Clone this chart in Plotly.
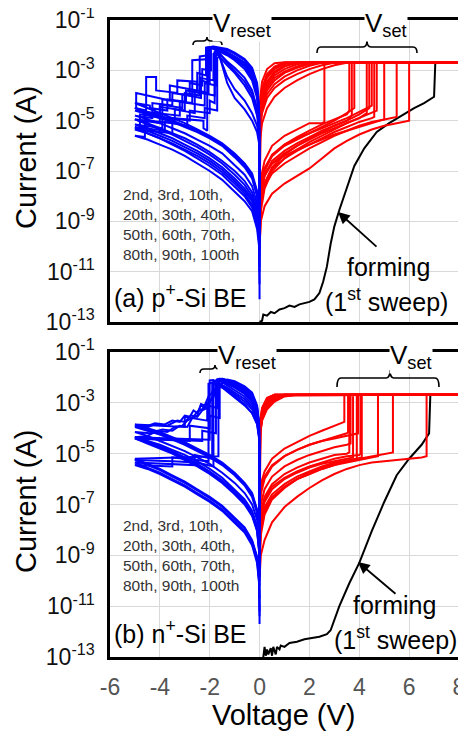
import plotly.graph_objects as go

# ---------------- data (log10 of current in A) ----------------
CC = -2.68  # compliance level (log10 A)
X_TICKS = [-6, -4, -2, 0, 2, 4, 6, 8]
X_TICK_TEXT = ["-6", "-4", "-2", "0", "2", "4", "6", "8"]
Y_EXP = [-13, -11, -9, -7, -5, -3, -1]

SET_V = [0.0, 0.05, 0.2, 0.5, 1.0, 1.5, 2.0, 2.5, 3.0, 3.5, 4.0, 4.5, 5.0, 5.5, 6.0, 6.5]
SET_END_V = 8.0
RET_POS_V = [3.5, 3.0, 2.5, 2.0, 1.5, 1.0, 0.6, 0.3, 0.1, 0.03, 0.0]
LRS_NEG_V = [0.0, -0.003, -0.02, -0.1, -0.3, -0.6, -1.0, -1.3]
RET_NEG_V = [-5.0, -4.5, -4.0, -3.5, -3.0, -2.5, -2.0, -1.5, -1.0, -0.6, -0.3, -0.1, -0.02, 0.0]

# ---- panel (a) set sweeps ----
TOP_VSET = [2.6, 3.6, 3.7, 3.8, 4.3, 4.4, 4.5, 4.6, 4.7, 5.0, 5.5, 6.0]
TOP_PRE = [-5.05, -4.6, -4.8, -4.5, -4.7, -4.5, -4.4, -4.85, -4.6, -4.95, -4.85, -5.0]
TOP_HRS = [
    [-8.5, -7.3, -6.6, -6.0, -5.6, -5.35, -5.1, -5.1],
    [-9.0, -7.8, -7.0, -6.4, -5.95, -5.65, -5.4, -5.15, -4.95, -4.75],
    [-9.6, -8.3, -7.5, -6.85, -6.35, -6.0, -5.7, -5.45, -5.2, -5.0],
    [-8.7, -7.6, -6.9, -6.35, -5.95, -5.7, -5.5, -5.25, -5.0, -4.7],
    [-10.1, -8.6, -7.7, -7.0, -6.5, -6.15, -5.85, -5.6, -5.35, -5.1, -4.9],
    [-9.2, -8.0, -7.2, -6.6, -6.2, -5.9, -5.65, -5.4, -5.2, -5.0, -4.75],
    [-8.8, -7.6, -6.9, -6.4, -6.0, -5.75, -5.5, -5.3, -5.1, -4.9, -4.65],
    [-9.8, -8.4, -7.5, -6.9, -6.5, -6.2, -5.95, -5.7, -5.45, -5.25, -5.05, -4.9],
    [-9.0, -7.9, -7.2, -6.7, -6.3, -6.0, -5.75, -5.5, -5.3, -5.1, -4.9, -4.7],
    [-9.4, -8.3, -7.6, -7.1, -6.7, -6.4, -6.1, -5.85, -5.6, -5.4, -5.2, -5.05],
    [-8.7, -7.7, -7.1, -6.7, -6.4, -6.15, -5.95, -5.75, -5.55, -5.4, -5.25, -5.1, -4.95],
    [-10.0, -9.0, -8.4, -7.9, -7.5, -7.2, -6.9, -6.5, -6.1, -5.8, -5.55, -5.35, -5.2, -5.1],
]
TOP_RET = [
    [CC, CC, CC, CC, CC, CC, -2.72, -2.95, -3.45, -4.05, -6.5],
    [CC, CC, CC, CC, CC, -2.69, -2.85, -3.15, -3.7, -4.3, -7.0],
    [CC, CC, CC, CC, CC, -2.75, -2.95, -3.3, -3.9, -4.5, -6.2],
    [CC, CC, CC, CC, -2.7, -2.85, -3.1, -3.5, -4.1, -4.7, -8.0],
    [CC, CC, CC, CC, -2.76, -2.95, -3.2, -3.6, -4.2, -4.8, -7.5],
    [CC, CC, CC, -2.75, -2.9, -3.1, -3.4, -3.8, -4.4, -5.0, -8.5],
    [CC, CC, -2.7, -2.82, -3.0, -3.25, -3.55, -3.95, -4.55, -5.15, -9.0],
    [CC, -2.7, -2.8, -2.95, -3.15, -3.4, -3.7, -4.1, -4.7, -5.3, -6.8],
    [-2.7, -2.8, -2.95, -3.15, -3.4, -3.7, -4.05, -4.5, -5.1, -5.7, -9.5],
    [CC, CC, CC, CC, CC, -2.7, -2.9, -3.2, -3.75, -4.4, -5.9],
    [CC, CC, CC, CC, -2.69, -2.82, -3.05, -3.45, -4.0, -4.6, -7.2],
    [CC, CC, CC, -2.7, -2.85, -3.05, -3.3, -3.7, -4.3, -4.9, -6.0],
]

# ---- panel (a) reset sweeps ----
TOP_LRS = [
    [-9.0, -5.6, -4.6, -3.6, -2.95, -2.6, -2.35, -2.2],
    [-8.5, -5.9, -5.0, -4.1, -3.4, -2.95, -2.6, -2.4],
    [-12.1, -6.3, -5.9, -5.45, -5.0, -4.55, -4.1, -3.5],
    [-9.5, -5.7, -4.8, -3.9, -3.2, -2.8, -2.5, -2.3],
    [-8.0, -6.0, -5.3, -4.5, -3.8, -3.3, -2.9, -2.65],
    [-10.5, -5.8, -4.9, -3.95, -3.3, -2.85, -2.55, -2.35],
    [-9.2, -6.1, -5.5, -4.8, -4.1, -3.6, -3.1, -2.8],
    [-8.8, -5.5, -4.5, -3.5, -2.9, -2.55, -2.3, -2.15],
    [-9.8, -6.2, -5.7, -5.2, -4.7, -4.2, -3.75, -3.25],
    [-7.5, -5.5, -4.7, -3.8, -3.1, -2.7, -2.45, -2.3],
    [-8.3, -5.65, -4.7, -3.7, -3.05, -2.7, -2.45, -2.28],
    [-9.3, -6.0, -5.3, -4.6, -3.95, -3.45, -3.0, -2.7],
]
TOP_PEAK_V = [-1.88, -1.95, -1.6, -1.8, -1.7, -1.9, -1.75, -1.85, -1.65, -1.95, -1.92, -1.7]
TOP_PEAK_L = [-2.06, -2.1, -2.45, -2.1, -2.25, -2.1, -2.3, -2.05, -2.35, -2.08, -2.07, -2.2]
TOP_STEP_V = [
    [-2.0, -2.0, -2.35, -2.35, -3.1, -3.1, -4.0, -4.0, -5.0],
    [-2.05, -2.05, -2.5, -2.5, -3.3, -3.3, -4.15, -4.15, -4.55, -4.55, -5.0],
    [-1.7, -1.7, -2.2, -2.2, -2.9, -2.9, -3.8, -3.8, -5.0],
    [-1.95, -1.95, -2.3, -2.3, -2.8, -2.8, -3.5, -3.5, -4.3, -4.3, -5.0],
    [-1.8, -1.8, -2.6, -2.6, -3.4, -3.4, -5.0],
    [-2.0, -2.0, -2.7, -2.7, -2.7, -3.9, -3.9, -4.8, -4.8, -5.0],
    [-1.85, -1.85, -2.4, -2.4, -3.0, -3.0, -4.0, -4.0, -5.0],
    [-2.1, -2.1, -2.25, -2.25, -3.5, -3.5, -5.0],
    [-1.75, -1.75, -2.2, -2.2, -3.2, -3.2, -4.6, -4.6, -5.0],
    [-2.05, -2.05, -2.4, -2.4, -2.4, -2.95, -2.95, -3.7, -3.7, -4.4, -4.4, -5.0],
    [-2.15, -2.15, -2.5, -2.5, -3.6, -3.6, -4.95, -4.95, -5.0],
    [-1.8, -1.8, -2.0, -2.0, -2.8, -2.8, -3.9, -3.9, -5.0],
]
TOP_STEP_L = [
    [-2.1, -3.5, -3.4, -4.1, -3.95, -4.5, -4.35, -4.8, -4.6],
    [-2.12, -3.9, -3.8, -3.45, -3.4, -3.9, -3.8, -3.26, -3.26, -4.6, -4.5],
    [-2.5, -4.6, -4.5, -4.9, -4.8, -5.2, -5.05, -5.4, -5.25],
    [-2.15, -3.0, -2.95, -3.6, -3.5, -4.0, -3.9, -4.4, -4.3, -4.9, -4.8],
    [-2.3, -4.0, -3.85, -4.7, -4.55, -5.1, -4.95],
    [-2.12, -2.55, -2.6, -2.9, -4.3, -4.15, -4.9, -4.75, -5.3, -5.3],
    [-2.35, -3.4, -3.3, -4.0, -3.9, -4.6, -4.45, -5.1, -4.95],
    [-2.1, -5.4, -5.3, -5.0, -4.9, -5.5, -5.35],
    [-2.4, -3.6, -3.5, -4.4, -4.25, -4.8, -4.65, -5.65, -5.6],
    [-2.1, -2.4, -2.45, -2.9, -3.9, -3.8, -4.25, -4.15, -4.6, -4.5, -4.4, -4.3],
    [-2.1, -3.2, -3.1, -3.8, -3.6, -4.2, -3.9, -4.5, -4.5],
    [-2.25, -4.3, -4.2, -4.7, -4.6, -5.0, -4.85, -5.3, -5.15],
]
TOP_HRS_RET = [
    [-4.6, -4.75, -4.9, -5.05, -5.25, -5.45, -5.7, -6.0, -6.45, -6.85, -7.3, -8.0, -8.8, -9.8],
    [-4.5, -4.7, -4.85, -5.0, -5.2, -5.4, -5.65, -5.95, -6.4, -6.8, -7.2, -7.9, -8.7, -9.5],
    [-5.25, -5.4, -5.6, -5.8, -6.05, -6.3, -6.6, -6.95, -7.4, -7.8, -8.2, -8.9, -9.6, -10.6],
    [-4.8, -4.95, -5.1, -5.3, -5.5, -5.75, -6.0, -6.3, -6.75, -7.15, -7.6, -8.3, -9.0, -10.2],
    [-4.95, -5.15, -5.35, -5.55, -5.8, -6.05, -6.35, -6.7, -7.15, -7.55, -8.0, -8.6, -9.3, -10.0],
    [-5.3, -5.5, -5.7, -5.9, -6.15, -6.4, -6.7, -7.05, -7.5, -7.9, -8.35, -9.0, -9.7, -11.0],
    [-4.95, -5.1, -5.3, -5.5, -5.7, -5.95, -6.25, -6.6, -7.0, -7.4, -7.85, -8.5, -9.2, -9.9],
    [-5.35, -5.5, -5.7, -5.95, -6.2, -6.5, -6.8, -7.15, -7.6, -8.0, -8.45, -9.1, -9.8, -10.8],
    [-5.6, -5.75, -5.95, -6.15, -6.4, -6.7, -7.0, -7.35, -7.8, -8.2, -8.6, -9.3, -10.0, -11.5],
    [-4.3, -4.5, -4.7, -4.9, -5.1, -5.35, -5.6, -5.9, -6.3, -6.7, -7.1, -7.8, -8.6, -9.3],
    [-4.5, -4.65, -4.8, -5.0, -5.2, -5.4, -5.65, -5.95, -6.35, -6.75, -7.2, -7.85, -8.6, -9.6],
    [-5.15, -5.3, -5.5, -5.7, -5.95, -6.2, -6.5, -6.85, -7.3, -7.7, -8.1, -8.8, -9.5, -10.4],
]

# ---- panel (a) forming ----
TOP_FORM_V = [0.0, 0.1, 0.15, 0.3, 0.45, 0.6, 0.8, 1.0, 1.2, 1.4, 1.6, 1.8, 2.0, 2.2, 2.4, 2.55,
              2.7, 2.85, 3.0, 3.2, 3.5, 3.8, 4.2, 4.7, 5.2, 5.7, 6.2, 6.6, 7.0, 7.05, 8.0]
TOP_FORM_L = [-13.0, -12.95, -12.7, -12.75, -12.6, -12.65, -12.5, -12.45, -12.35, -12.4, -12.3,
              -12.25, -12.2, -12.1, -11.85, -11.4, -10.8, -9.9, -9.2, -8.55, -7.7, -6.8, -6.1,
              -5.45, -5.1, -4.8, -4.5, -4.3, -4.05, -2.68, -2.68]

# ---- panel (b) set sweeps ----
BOT_VSET = [3.4, 3.55, 3.6, 3.65, 3.75, 3.9, 3.95, 4.05, 4.1, 4.75, 5.35, 6.7]
BOT_PRE = [-3.75, -4.15, -4.95, -4.6, -5.15, -5.2, -4.2, -5.0, -5.15, -5.1, -4.95, -5.1]
BOT_HRS = [
    [-7.0, -6.2, -5.7, -5.2, -4.8, -4.55, -4.3, -4.1, -3.9],
    [-7.5, -6.6, -6.0, -5.5, -5.1, -4.85, -4.65, -4.5, -4.35, -4.2],
    [-8.3, -7.3, -6.7, -6.2, -5.8, -5.55, -5.35, -5.2, -5.05, -5.0],
    [-8.0, -7.0, -6.4, -5.9, -5.5, -5.25, -5.05, -4.9, -4.75, -4.65],
    [-8.5, -7.5, -6.9, -6.4, -6.0, -5.75, -5.55, -5.4, -5.3, -5.2],
    [-9.0, -7.8, -7.1, -6.6, -6.2, -5.9, -5.7, -5.5, -5.35, -5.25],
    [-7.2, -6.4, -5.9, -5.45, -5.1, -4.85, -4.65, -4.5, -4.4, -4.3],
    [-8.2, -7.3, -6.8, -6.3, -5.95, -5.7, -5.5, -5.35, -5.2, -5.1, -5.05],
    [-9.5, -8.2, -7.4, -6.8, -6.35, -6.0, -5.75, -5.55, -5.4, -5.3, -5.2],
    [-8.8, -7.8, -7.2, -6.7, -6.3, -6.0, -5.8, -5.6, -5.45, -5.35, -5.25, -5.15],
    [-9.2, -8.0, -7.3, -6.75, -6.3, -6.0, -5.8, -5.6, -5.45, -5.3, -5.2, -5.1, -5.0],
    [-9.85, -9.0, -8.4, -7.7, -7.1, -6.7, -6.35, -6.05, -5.8, -5.6, -5.45, -5.35, -5.3,
     -5.25, -5.2, -5.15],
]
BOT_RET = [
    [CC, CC, CC, CC, CC, CC, CC, -2.8, -3.2, -3.7, -4.6],
    [CC, CC, CC, CC, CC, CC, CC, -2.85, -3.3, -3.8, -5.0],
    [CC, CC, CC, CC, CC, CC, -2.7, -2.95, -3.4, -3.9, -4.8],
    [CC, CC, CC, CC, CC, CC, -2.75, -3.05, -3.5, -4.0, -5.5],
    [CC, CC, CC, CC, CC, -2.7, -2.85, -3.15, -3.6, -4.1, -6.0],
    [CC, CC, CC, CC, CC, -2.75, -2.95, -3.25, -3.7, -4.2, -9.85],
    [CC, CC, CC, CC, CC, CC, CC, -2.9, -3.35, -3.85, -4.5],
    [CC, CC, CC, CC, CC, CC, -2.72, -3.0, -3.45, -3.95, -5.2],
    [CC, CC, CC, CC, CC, -2.72, -2.9, -3.2, -3.65, -4.15, -7.0],
    [CC, CC, CC, CC, CC, CC, CC, -2.82, -3.25, -3.75, -4.7],
    [CC, CC, CC, CC, CC, CC, -2.78, -3.1, -3.55, -4.05, -6.5],
    [CC, CC, CC, CC, CC, -2.7, -2.88, -3.18, -3.62, -4.12, -8.0],
]

# ---- panel (b) reset sweeps ----
BOT_LRS = [
    [-7.0, -4.6, -3.85, -3.15, -2.65, -2.4, -2.2, -2.1],
    [-11.7, -5.0, -4.35, -3.8, -3.4, -3.1, -2.8, -2.55],
    [-6.0, -4.7, -4.0, -3.35, -2.85, -2.55, -2.3, -2.15],
    [-8.0, -4.8, -4.15, -3.55, -3.05, -2.75, -2.5, -2.3],
    [-9.0, -4.9, -4.25, -3.65, -3.15, -2.85, -2.6, -2.4],
    [-6.5, -4.55, -3.8, -3.1, -2.6, -2.35, -2.15],
    [-10.0, -4.95, -4.3, -3.7, -3.25, -2.95, -2.65, -2.45],
    [-7.5, -4.65, -3.95, -3.3, -2.8, -2.5, -2.25, -2.15],
    [-8.5, -4.75, -4.05, -3.45, -2.95, -2.65, -2.4, -2.25],
    [-6.8, -4.6, -3.9, -3.2, -2.7, -2.45, -2.25, -2.12],
    [-9.5, -5.0, -4.4, -3.85, -3.4, -3.05, -2.75, -2.5],
    [-7.2, -4.7, -4.0, -3.4, -2.9, -2.6, -2.35, -2.2],
]
BOT_PEAK_V = [-1.6, -1.75, -1.5, -1.65, -1.8, -1.3, -1.85, -1.55, -1.7, -1.45, -1.9, -1.6]
BOT_PEAK_L = [-2.05, -2.2, -2.05, -2.1, -2.15, -2.08, -2.1, -2.06, -2.08, -2.06, -2.2, -2.06]
BOT_STEP_V = [
    [-1.7, -1.7, -2.1, -2.1, -3.0, -3.0, -5.0],
    [-1.85, -1.85, -2.5, -3.5, -5.0],
    [-1.6, -1.75, -1.85, -2.0, -2.2, -2.35, -2.5, -2.65, -2.8, -3.0, -3.2, -3.5, -3.8, -4.2, -4.6, -5.0],
    [-1.75, -1.75, -2.3, -2.3, -5.0],
    [-1.9, -1.9, -2.6, -2.6, -5.0],
    [-1.4, -1.55, -1.7, -1.85, -2.0, -2.15, -2.3, -2.5, -2.7, -2.9, -3.1, -3.4, -3.7, -4.1, -4.5, -5.0],
    [-2.0, -2.0, -2.8, -2.8, -5.0],
    [-1.65, -1.65, -5.0],
    [-1.8, -1.9, -2.05, -2.2, -2.35, -2.5, -2.7, -2.9, -3.2, -3.5, -3.9, -4.4, -5.0],
    [-1.6, -1.6, -2.0, -2.0, -5.0],
    [-2.05, -2.05, -3.5, -3.5, -5.0],
    [-1.7, -1.8, -1.95, -2.1, -2.3, -2.5, -2.75, -3.0, -3.3, -3.7, -4.2, -4.6, -5.0],
]
BOT_STEP_L = [
    [-2.08, -3.2, -3.1, -3.7, -3.55, -3.95, -3.85],
    [-2.25, -5.5, -5.35, -5.3, -5.25],
    [-2.1, -2.4, -2.8, -2.9, -3.2, -3.1, -3.4, -3.3, -3.55, -3.5, -3.75, -3.7, -3.85, -3.8, -3.95, -3.9],
    [-2.15, -4.2, -4.1, -4.5, -4.4],
    [-2.2, -5.2, -5.05, -5.45, -5.35],
    [-2.12, -2.3, -2.55, -2.7, -2.95, -3.05, -3.25, -3.35, -3.6, -3.7, -3.9, -3.95, -4.15, -4.1, -4.3, -4.35],
    [-2.12, -4.0, -3.9, -4.5, -4.4],
    [-2.1, -5.1, -5.2],
    [-2.15, -2.6, -2.75, -3.1, -3.05, -3.5, -3.6, -3.95, -3.9, -4.1, -4.05, -4.2, -4.15],
    [-2.1, -3.6, -3.5, -4.45, -4.35],
    [-2.25, -5.3, -5.15, -5.5, -5.45],
    [-2.12, -2.5, -2.9, -3.2, -3.3, -3.55, -3.5, -3.75, -3.7, -3.9, -3.85, -4.0, -3.95],
]
BOT_HRS_RET = [
    [-3.85, -4.0, -4.15, -4.35, -4.55, -4.8, -5.05, -5.35, -5.75, -6.15, -6.55, -7.2, -8.0, -9.0],
    [-5.25, -5.45, -5.65, -5.9, -6.15, -6.45, -6.75, -7.1, -7.55, -7.95, -8.45, -9.1, -9.9, -11.0],
    [-3.9, -4.05, -4.2, -4.4, -4.6, -4.85, -5.1, -5.4, -5.8, -6.2, -6.6, -7.25, -8.1, -9.2],
    [-4.4, -4.55, -4.75, -4.95, -5.2, -5.45, -5.75, -6.1, -6.55, -6.95, -7.4, -8.0, -8.8, -10.0],
    [-5.35, -5.55, -5.75, -6.0, -6.25, -6.55, -6.85, -7.2, -7.65, -8.05, -8.55, -9.2, -10.0, -11.2],
    [-4.35, -4.5, -4.7, -4.9, -5.15, -5.4, -5.7, -6.05, -6.5, -6.9, -7.35, -7.95, -8.75, -9.8],
    [-4.4, -4.6, -4.8, -5.0, -5.25, -5.5, -5.8, -6.15, -6.6, -7.0, -7.45, -8.05, -8.85, -10.2],
    [-5.2, -5.4, -5.6, -5.85, -6.1, -6.4, -6.7, -7.05, -7.5, -7.9, -8.4, -9.05, -9.8, -10.7],
    [-4.15, -4.3, -4.5, -4.7, -4.9, -5.15, -5.4, -5.75, -6.15, -6.55, -7.0, -7.6, -8.4, -9.5],
    [-4.35, -4.5, -4.65, -4.85, -5.05, -5.3, -5.6, -5.95, -6.4, -6.8, -7.25, -7.85, -8.6, -9.6],
    [-5.45, -5.6, -5.8, -6.05, -6.3, -6.6, -6.9, -7.25, -7.7, -8.1, -8.6, -9.3, -10.1, -11.4],
    [-3.95, -4.1, -4.25, -4.45, -4.65, -4.9, -5.15, -5.45, -5.85, -6.25, -6.7, -7.35, -8.2, -9.3],
]

# ---- panel (b) forming ----
BOT_FORM_V = [0.15, 0.2, 0.25, 0.3, 0.35, 0.45, 0.5, 0.55, 0.65, 0.7, 0.8, 0.85, 1.0, 1.2, 1.5,
              1.8, 2.1, 2.4, 2.7, 2.85, 3.2, 3.6, 4.0, 4.5, 5.0, 5.5, 6.0, 6.5, 6.8, 6.85, 8.0]
BOT_FORM_L = [-13.0, -12.6, -12.95, -12.7, -12.9, -12.65, -12.95, -12.6, -12.9, -12.6, -12.7,
              -12.55, -12.6, -12.45, -12.4, -12.3, -12.25, -12.2, -12.1, -11.95, -11.0, -10.1,
              -9.3, -8.05, -6.9, -5.85, -5.2, -4.65, -4.2, -2.69, -2.69]


# ---------------- build paths ----------------
def set_curves(vsets, pres, hrs_list, ret_list):
    xs, ys = [], []
    for vset, pre, hrs, ret in zip(vsets, pres, hrs_list, ret_list):
        v = SET_V[:len(hrs)] + [vset, vset, SET_END_V] + RET_POS_V
        l = hrs + [pre, CC, CC] + ret
        xs += v + [None]
        ys += [10 ** e for e in l] + [None]
    return xs, ys


def reset_curves(lrs_list, pv, pl, sv, sl, ret_list):
    xs, ys = [], []
    for lrs, p_v, p_l, s_v, s_l, ret in zip(lrs_list, pv, pl, sv, sl, ret_list):
        v = LRS_NEG_V[:len(lrs)] + [p_v] + s_v + RET_NEG_V
        l = lrs + [p_l] + s_l + ret
        xs += v + [None]
        ys += [10 ** e for e in l] + [None]
    return xs, ys


fig = go.Figure()
LW = 2.0

for (fv, fl, xa, ya) in [(TOP_FORM_V, TOP_FORM_L, "x", "y"), (BOT_FORM_V, BOT_FORM_L, "x2", "y2")]:
    fig.add_trace(go.Scatter(x=fv, y=[10 ** e for e in fl], mode="lines",
                             line=dict(color="black", width=LW), xaxis=xa, yaxis=ya))

for args, xa, ya in [((TOP_VSET, TOP_PRE, TOP_HRS, TOP_RET), "x", "y"),
                     ((BOT_VSET, BOT_PRE, BOT_HRS, BOT_RET), "x2", "y2")]:
    xs, ys = set_curves(*args)
    fig.add_trace(go.Scatter(x=xs, y=ys, mode="lines", line=dict(color="#ff0000", width=LW),
                             xaxis=xa, yaxis=ya, connectgaps=False))

for args, xa, ya in [((TOP_LRS, TOP_PEAK_V, TOP_PEAK_L, TOP_STEP_V, TOP_STEP_L, TOP_HRS_RET), "x", "y"),
                     ((BOT_LRS, BOT_PEAK_V, BOT_PEAK_L, BOT_STEP_V, BOT_STEP_L, BOT_HRS_RET), "x2", "y2")]:
    xs, ys = reset_curves(*args)
    fig.add_trace(go.Scatter(x=xs, y=ys, mode="lines", line=dict(color="#0000ff", width=LW),
                             xaxis=xa, yaxis=ya, connectgaps=False))

# ---------------- layout ----------------
# page body margin shifts the figure by 8 px; window coords below are corrected for it
PAGE_OFF = 8
WIN_W, WIN_H = 466, 732
L_PX, R_PX, T_PX, B_PX = 110, 459, 20, 657   # plot-area edges in window pixels
W_PX, H_PX = R_PX - L_PX, B_PX - T_PX
FIG_W, FIG_H = WIN_W - PAGE_OFF, WIN_H - PAGE_OFF


def px(x):
    return (x - L_PX) / W_PX


def py(y):
    return (B_PX - y) / H_PX


FONT = "Liberation Sans, Arial, sans-serif"
common_x = dict(range=[-6, 8], tickvals=X_TICKS, ticktext=X_TICK_TEXT, showgrid=True,
                gridcolor="#d9d9d9", gridwidth=1, automargin=False, ticklabeloverflow="allow",
                showline=True, mirror=True, linecolor="black", linewidth=2.5, zeroline=False,
                ticks="", tickfont=dict(size=23, color="#555555", family=FONT))
common_y = dict(type="log", range=[-13, -1], tickvals=[10 ** e for e in Y_EXP],
                ticktext=["10<sup>%d</sup>" % e for e in Y_EXP], automargin=False,
                ticklabeloverflow="allow",
                showgrid=True, gridcolor="#d9d9d9", gridwidth=1, showline=True, mirror=True,
                linecolor="black", linewidth=2.5, zeroline=False, ticks="",
                ticklabelstandoff=8, tickfont=dict(size=23, color="#111111", family=FONT))

fig.update_layout(
    width=FIG_W, height=FIG_H,
    margin=dict(l=L_PX - PAGE_OFF, r=WIN_W - R_PX, t=T_PX - PAGE_OFF, b=WIN_H - B_PX),
    paper_bgcolor="white", plot_bgcolor="white", showlegend=False,
    font=dict(family=FONT, color="black"),
    xaxis=dict(domain=[0, 1], anchor="y", showticklabels=False, **common_x),
    yaxis=dict(domain=[py(322), 1], anchor="x", **common_y),
    xaxis2=dict(domain=[0, 1], anchor="y2", showticklabels=True, ticklabelstandoff=8, **common_x),
    yaxis2=dict(domain=[0, py(352)], anchor="x2", **common_y),
)


def brace(x0, x1, xm, yt, ym, yb, r=4):
    def P(x, y):
        return "%.5f,%.5f" % (px(x), py(y))
    return ("M" + P(x0, yb) + " Q" + P(x0, ym) + " " + P(x0 + r, ym) + " L" + P(xm - r, ym) +
            " Q" + P(xm, ym) + " " + P(xm, yt) + " Q" + P(xm, ym) + " " + P(xm + r, ym) +
            " L" + P(x1 - r, ym) + " Q" + P(x1, ym) + " " + P(x1, yb))


shapes = []
for b in [(193, 222, 207, 37, 41, 45), (317, 417, 367, 40, 47, 53),
          (200, 229, 215, 365, 369, 373), (337, 439, 390, 370, 378, 387)]:
    shapes.append(dict(type="path", path=brace(*b), xref="paper", yref="paper",
                       line=dict(color="black", width=1.6)))
fig.update_layout(shapes=shapes)

ann = []


def text(t, x, y, size, xanchor="center", color="black", bg=None, align="center", angle=0):
    d = dict(text=t, x=px(x), y=py(y), xref="paper", yref="paper", showarrow=False,
             xanchor=xanchor, yanchor="middle", align=align, textangle=angle,
             font=dict(size=size, color=color, family=FONT))
    if bg:
        d.update(bgcolor=bg, borderpad=0)
    ann.append(d)


text("Current (A)", 26, 158, 29, angle=-90)
text("Current (A)", 26, 502, 29, angle=-90)
text("Voltage (V)", 283, 715, 29)
counts = "2nd, 3rd, 10th,<br>20th, 30th, 40th,<br>50th, 60th, 70th,<br>80th, 90th, 100th"
text(counts, 121, 224, 15.5, xanchor="left", color="#333333", align="left")
text(counts, 121, 555, 15.5, xanchor="left", color="#333333", align="left")
text("(a) p<sup>+</sup>-Si BE", 112, 296, 25, xanchor="left")
text("(b) n<sup>+</sup>-Si BE", 112, 632, 25, xanchor="left")
text("forming", 388, 267, 25)
text("(1<sup>st</sup> sweep)", 386, 300, 25)
text("forming", 394, 605, 25)
text("(1<sup>st</sup> sweep)", 395, 638, 25)
text("V<sub>reset</sub>", 242, 24, 26, bg="white")
text("V<sub>set</sub>", 386, 24, 26, bg="white")
text("V<sub>reset</sub>", 247, 356, 26, bg="white")
text("V<sub>set</sub>", 411, 356, 26, bg="white")

for tip, tail in [((338, 212), (378, 248)), ((358, 562), (397, 595))]:
    ann.append(dict(text="", x=px(tip[0]), y=py(tip[1]), xref="paper", yref="paper",
                    showarrow=True, ax=tail[0] - tip[0], ay=tail[1] - tip[1],
                    arrowhead=2, arrowsize=1.3, arrowwidth=1.8, arrowcolor="black"))
fig.update_layout(annotations=ann)

fig.write_html("out.html")
